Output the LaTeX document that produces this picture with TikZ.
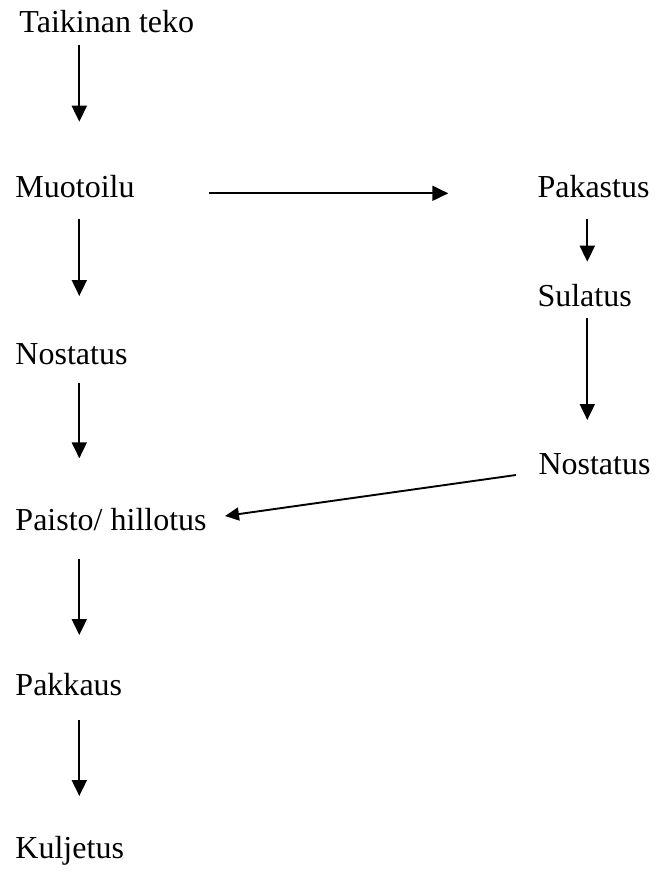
\documentclass[tikz,border=0pt]{standalone}
\usepackage{fontspec}
\setmainfont{Liberation Serif}
\usetikzlibrary{arrows.meta}
\begin{document}
\begin{tikzpicture}[x=1pt,y=-1pt,
  lbl/.style={anchor=base west,inner sep=0pt,outer sep=0pt,font=\fontsize{32}{38}\selectfont},
  flow/.style={line width=1.9pt,-{Triangle[length=16pt,width=15pt]}},
  flowsmall/.style={line width=1.9pt,-{Triangle[length=14pt,width=13pt]}}]
\useasboundingbox (0,0) rectangle (656,872);
% texts
\node[lbl] (taikina) at (19.5,32.3) {Taikinan teko};
\node[lbl] (muotoilu) at (15.5,197.3) {Muotoilu};
\node[lbl] (nostatus1) at (15.5,364.3) {Nostatus};
\node[lbl] (paisto) at (15.5,530) {Paisto/ hillotus};
\node[lbl] (pakkaus) at (15.5,695) {Pakkaus};
\node[lbl] (kuljetus) at (15.5,858) {Kuljetus};
\node[lbl] (pakastus) at (537.5,197) {Pakastus};
\node[lbl] (sulatus) at (537.5,306.7) {Sulatus};
\node[lbl] (nostatus2) at (538.5,474) {Nostatus};
% connector end points
\coordinate (a1s) at (79.3,45);   \coordinate (a1e) at (79.3,121.7);
\coordinate (a2s) at (79.3,219.3);\coordinate (a2e) at (79.3,296);
\coordinate (a3s) at (79.3,382.7);\coordinate (a3e) at (79.3,458.3);
\coordinate (a4s) at (79.3,559);  \coordinate (a4e) at (79.3,635);
\coordinate (a5s) at (79.3,720);  \coordinate (a5e) at (79.3,796);
\coordinate (hs) at (209.3,193.3);\coordinate (he) at (448.3,193.3);
\coordinate (r1s) at (587.3,219.3);\coordinate (r1e) at (587.3,261.7);
\coordinate (r2s) at (587.3,318.3);\coordinate (r2e) at (587.3,420);
\coordinate (ds) at (516,475);    \coordinate (de) at (225,516);
% connectors
\draw[flow] (a1s) -- (a1e);
\draw[flow] (a2s) -- (a2e);
\draw[flow] (a3s) -- (a3e);
\draw[flow] (a4s) -- (a4e);
\draw[flow] (a5s) -- (a5e);
\draw[flow] (hs) -- (he);
\draw[flow] (r1s) -- (r1e);
\draw[flow] (r2s) -- (r2e);
\draw[flowsmall] (ds) -- (de);
\end{tikzpicture}
\end{document}
